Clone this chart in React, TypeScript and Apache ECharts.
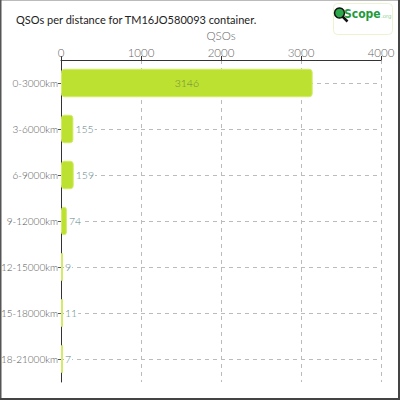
import React, { useEffect, useRef } from "react";
import * as echarts from "echarts";

const categories = ["0-3000km", "3-6000km", "6-9000km", "9-12000km", "12-15000km", "15-18000km", "18-21000km"];
const qsoValues = [3146, 155, 159, 74, 9, 11, 7];
const xTicks = [0, 1000, 2000, 3000, 4000];
const titleText = "QSOs per distance for TM16JO580093 container.";

const FONT = "Lato, 'Open Sans', sans-serif";

export default function App() {
  const ref = useRef<HTMLDivElement>(null);
  useEffect(() => {
    document.body.style.margin = "0";
    const chart = echarts.init(ref.current!, null, { renderer: "svg" });
    chart.setOption({
      animation: false,
      backgroundColor: "#fff",
      textStyle: { fontFamily: FONT },
      title: {
        text: titleText,
        left: 11,
        top: 9,
        textStyle: { fontSize: 11, fontWeight: "normal", color: "#222", fontFamily: FONT },
      },
      grid: { left: 61, right: 19, top: 60, bottom: 18, containLabel: false, outerBoundsMode: "none" },
      xAxis: {
        type: "value",
        position: "top",
        min: xTicks[0],
        max: xTicks[xTicks.length - 1],
        interval: 1000,
        name: "QSOs",
        nameLocation: "middle",
        nameGap: 12,
        nameTextStyle: { color: "#666", fontSize: 11.5, fontWeight: 300, fontFamily: FONT },
        axisLine: { show: true, lineStyle: { color: "#333", width: 1 } },
        axisTick: { show: true, length: 4, lineStyle: { color: "#333" } },
        axisLabel: { color: "#666", fontSize: 11.5, fontWeight: 300, margin: 2, fontFamily: FONT, formatter: (v: number) => String(v) },
        splitLine: { show: true, lineStyle: { color: "#bbb", type: [4, 4] } },
      },
      yAxis: {
        type: "category",
        inverse: true,
        data: categories,
        axisLine: { show: true, lineStyle: { color: "#333", width: 1 } },
        axisTick: { show: true, alignWithLabel: true, length: 3, lineStyle: { color: "#555" } },
        axisLabel: { color: "#555", fontSize: 10, fontWeight: 300, margin: 3, fontFamily: FONT },
        splitLine: { show: false },
      },
      series: [
        {
          type: "line",
          z: 1,
          silent: true,
          showSymbol: false,
          data: categories.map(() => "-"),
          lineStyle: { opacity: 0 },
          markLine: {
            silent: true,
            z: 1,
            symbol: "none",
            label: { show: false },
            lineStyle: { color: "#bbb", type: [4, 4], width: 1 },
            data: categories.map((c) => ({ yAxis: c })),
          },
        },
        {
          type: "bar",
          z: 3,
          data: qsoValues.map((v, i) => ({
            value: v,
            label:
              i === 0
                ? { show: true, position: "inside", color: "#6a8440", fontSize: 10.5, fontWeight: 300 }
                : {
                    show: true,
                    position: "right",
                    distance: 1,
                    color: "#5c8585",
                    fontSize: 10.5,
                    fontWeight: 300,
                    backgroundColor: "#fff",
                    padding: [0, 1, 0, 1],
                  },
          })),
          barWidth: "62%",
          barMinHeight: 2,
          itemStyle: { color: "#bde130", borderColor: "#d2ec6a", borderWidth: 1, borderRadius: 3 },
          label: { fontFamily: FONT },
        },
      ],
      graphic: [
        {
          type: "rect",
          left: 333,
          top: 3,
          shape: { width: 59, height: 31, r: 4 },
          style: { fill: "#fff", stroke: "#eaf3d2", lineWidth: 1 },
        },
        {
          type: "line",
          shape: { x1: 342.5, y1: 16.5, x2: 347.5, y2: 21.5 },
          style: { stroke: "#111", lineWidth: 2.5 },
        },
        {
          type: "circle",
          shape: { cx: 339.5, cy: 13, r: 5 },
          style: { fill: "#2aa84a", stroke: "#111", lineWidth: 1.5 },
        },
        {
          type: "text",
          x: 344,
          y: 20,
          style: {
            text: "Scope",
            fill: "#1f9a3e",
            font: "bold 12px 'Liberation Sans Narrow', 'DejaVu Sans Condensed', sans-serif",
            verticalAlign: "bottom",
          },
        },
        {
          type: "text",
          x: 381,
          y: 19,
          style: { text: ".org", fill: "#9ad49a", font: "6px sans-serif", verticalAlign: "bottom" },
        },
        { type: "line", shape: { x1: 0, y1: 0.5, x2: 400, y2: 0.5 }, style: { stroke: "#bbb", lineWidth: 1 } },
        { type: "line", shape: { x1: 0.75, y1: 0, x2: 0.75, y2: 400 }, style: { stroke: "#555", lineWidth: 1.5 } },
        { type: "line", shape: { x1: 399, y1: 0, x2: 399, y2: 400 }, style: { stroke: "#444", lineWidth: 2 } },
        { type: "line", shape: { x1: 0, y1: 399, x2: 400, y2: 399 }, style: { stroke: "#444", lineWidth: 2 } },
      ],
    });
    return () => chart.dispose();
  }, []);
  return <div ref={ref} style={{ width: 400, height: 400 }} />;
}
